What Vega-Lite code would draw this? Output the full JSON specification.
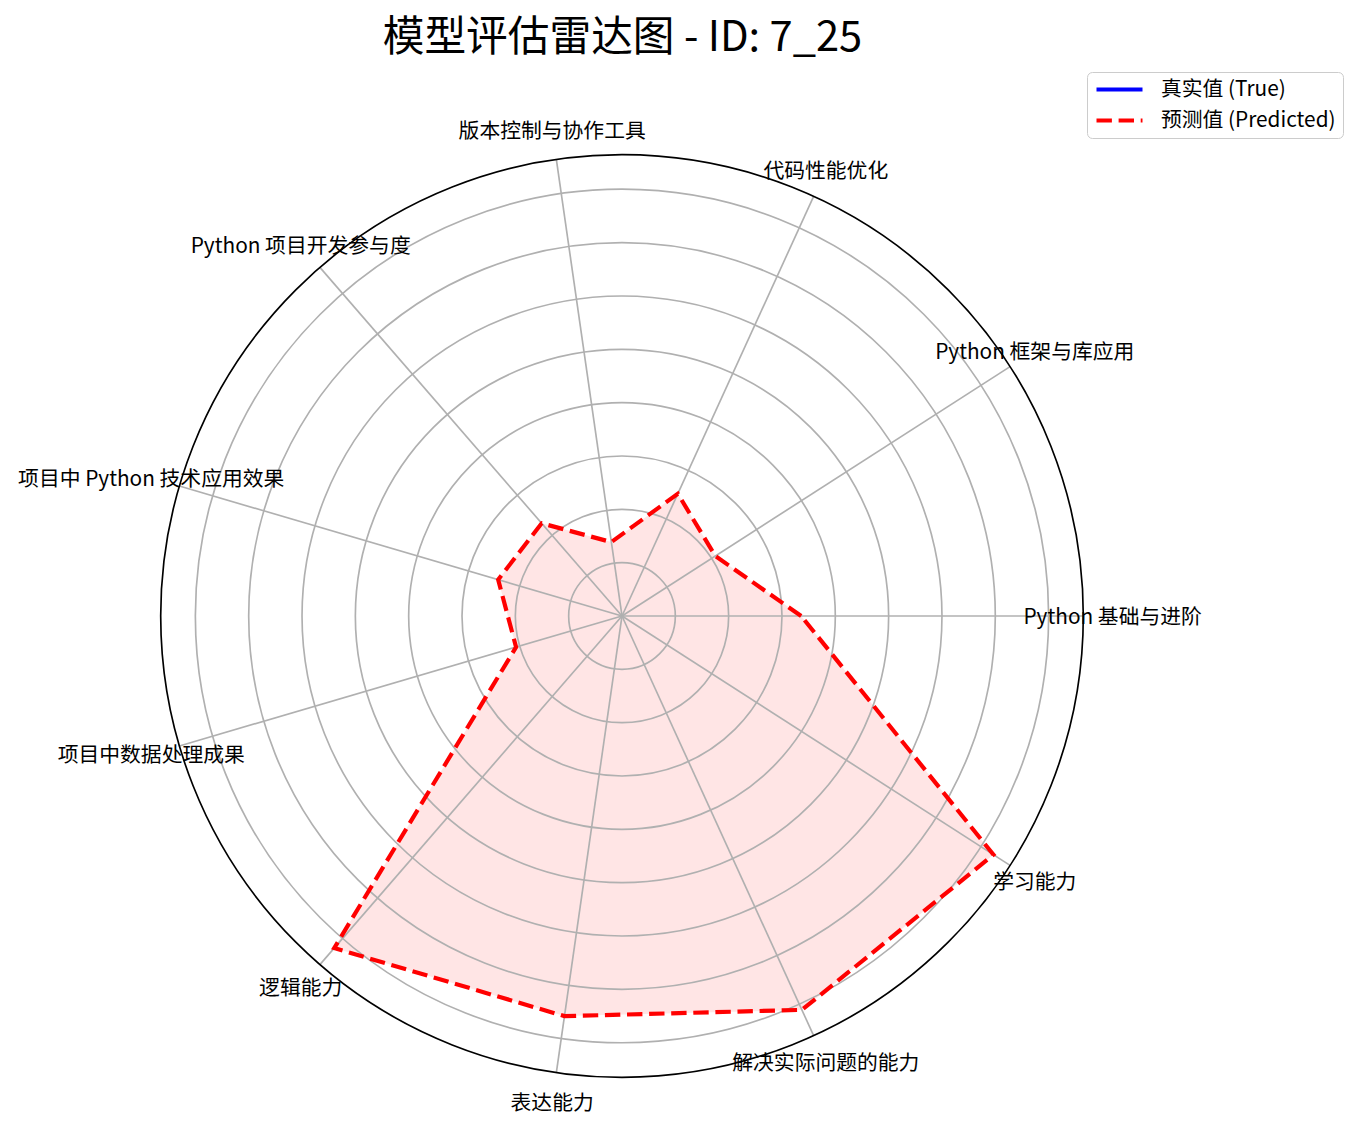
{
  "$schema": "https://vega.github.io/schema/vega-lite/v6.json",
  "width": 1365,
  "height": 1057,
  "autosize": {"type": "none"},
  "padding": {"top": 70, "left": 0, "right": 0, "bottom": 0},
  "background": "white",
  "title": {"text": "模型评估雷达图 - ID: 7_25", "font": "Noto Sans CJK SC", "fontSize": 41.7, "fontWeight": "normal", "color": "black", "anchor": "middle", "dx": -60, "offset": 10},
  "config": {
    "view": {"stroke": null},
    "legend": {"orient": "none", "legendX": 1087, "legendY": 2, "symbolType": "stroke", "symbolSize": 2116, "symbolStrokeWidth": 4.17, "labelFont": "Noto Sans CJK SC", "labelFontSize": 20.8, "labelColor": "black", "labelOffset": 16, "padding": 7, "rowPadding": 9, "fillColor": "white", "strokeColor": "#cccccc", "cornerRadius": 5, "clipHeight": 21, "labelLimit": 400}
  },
  "datasets": {
    "pts": [
      {"idx": 0, "dim": "Python 基础与进阶", "pred": 3.36, "series": "预测值 (Predicted)"},
      {"idx": 1, "dim": "Python 框架与库应用", "pred": 2.08, "series": "预测值 (Predicted)"},
      {"idx": 2, "dim": "代码性能优化", "pred": 2.52, "series": "预测值 (Predicted)"},
      {"idx": 3, "dim": "版本控制与协作工具", "pred": 1.40, "series": "预测值 (Predicted)"},
      {"idx": 4, "dim": "Python 项目开发参与度", "pred": 2.30, "series": "预测值 (Predicted)"},
      {"idx": 5, "dim": "项目中 Python 技术应用效果", "pred": 2.42, "series": "预测值 (Predicted)"},
      {"idx": 6, "dim": "项目中数据处理成果", "pred": 2.07, "series": "预测值 (Predicted)"},
      {"idx": 7, "dim": "逻辑能力", "pred": 8.24, "series": "预测值 (Predicted)"},
      {"idx": 8, "dim": "表达能力", "pred": 7.58, "series": "预测值 (Predicted)"},
      {"idx": 9, "dim": "解决实际问题的能力", "pred": 8.12, "series": "预测值 (Predicted)"},
      {"idx": 10, "dim": "学习能力", "pred": 8.28, "series": "预测值 (Predicted)"},
      {"idx": 11, "dim": "Python 基础与进阶", "pred": 3.36, "series": "预测值 (Predicted)"}
    ],
    "rings": [
      {"r": 1, "kind": "grid"}, {"r": 2, "kind": "grid"}, {"r": 3, "kind": "grid"}, {"r": 4, "kind": "grid"},
      {"r": 5, "kind": "grid"}, {"r": 6, "kind": "grid"}, {"r": 7, "kind": "grid"}, {"r": 8, "kind": "grid"},
      {"r": 8.65, "kind": "spine"}
    ]
  },
  "layer": [
    {
      "data": {"name": "pts"},
      "transform": [
        {"calculate": "datum.idx*2*PI/11", "as": "ang"},
        {"calculate": "datum.pred*cos(datum.ang)", "as": "px"},
        {"calculate": "datum.pred*sin(datum.ang)", "as": "py"}
      ],
      "mark": {"type": "line", "fill": "#ff0000", "fillOpacity": 0.1, "strokeOpacity": 0},
      "encoding": {
        "x": {"field": "px", "type": "quantitative", "scale": {"domain": [-11.663, 13.932], "nice": false, "zero": false}, "axis": null},
        "y": {"field": "py", "type": "quantitative", "scale": {"domain": [-9.582, 10.238], "nice": false, "zero": false}, "axis": null},
        "order": {"field": "idx", "type": "quantitative"}
      }
    },
    {
      "data": {"name": "rings"},
      "transform": [{"filter": "datum.kind == 'grid'"}, {"calculate": "0", "as": "c"}],
      "mark": {"type": "point", "shape": "circle", "filled": false, "color": "#b0b0b0", "strokeWidth": 1.67, "opacity": 1},
      "encoding": {
        "x": {"field": "c", "type": "quantitative"},
        "y": {"field": "c", "type": "quantitative"},
        "size": {"field": "r", "type": "quantitative", "scale": {"type": "pow", "exponent": 2, "domain": [0, 8.65], "range": [0, 851190]}, "legend": null}
      }
    },
    {
      "data": {"name": "pts"},
      "transform": [
        {"filter": "datum.idx < 11"},
        {"calculate": "datum.idx*2*PI/11", "as": "ang"},
        {"calculate": "0", "as": "c"},
        {"calculate": "8.65*cos(datum.ang)", "as": "xe"},
        {"calculate": "8.65*sin(datum.ang)", "as": "ye"}
      ],
      "mark": {"type": "rule", "color": "#b0b0b0", "strokeWidth": 1.67},
      "encoding": {
        "x": {"field": "c", "type": "quantitative"},
        "y": {"field": "c", "type": "quantitative"},
        "x2": {"field": "xe"},
        "y2": {"field": "ye"}
      }
    },
    {
      "data": {"name": "pts"},
      "transform": [
        {"calculate": "datum.idx*2*PI/11", "as": "ang"},
        {"calculate": "datum.pred*cos(datum.ang)", "as": "px"},
        {"calculate": "datum.pred*sin(datum.ang)", "as": "py"}
      ],
      "mark": {"type": "line", "strokeWidth": 4.17},
      "encoding": {
        "x": {"field": "px", "type": "quantitative"},
        "y": {"field": "py", "type": "quantitative"},
        "order": {"field": "idx", "type": "quantitative"},
        "color": {"field": "series", "type": "nominal", "title": null, "scale": {"domain": ["真实值 (True)", "预测值 (Predicted)"], "range": ["#0000ff", "#ff0000"]}},
        "strokeDash": {"field": "series", "type": "nominal", "title": null, "scale": {"domain": ["真实值 (True)", "预测值 (Predicted)"], "range": [[1, 0], [15.4, 6.7]]}}
      }
    },
    {
      "data": {"name": "pts"},
      "transform": [
        {"filter": "datum.idx < 11"},
        {"calculate": "datum.idx*2*PI/11", "as": "ang"},
        {"calculate": "9.2*cos(datum.ang)", "as": "lx"},
        {"calculate": "9.2*sin(datum.ang)", "as": "ly"}
      ],
      "mark": {"type": "text", "font": "Noto Sans CJK SC", "fontSize": 20.8, "color": "black", "align": "center", "baseline": "middle", "dy": 2},
      "encoding": {
        "x": {"field": "lx", "type": "quantitative"},
        "y": {"field": "ly", "type": "quantitative"},
        "text": {"field": "dim", "type": "nominal"}
      }
    },
    {
      "data": {"name": "rings"},
      "transform": [{"filter": "datum.kind == 'spine'"}, {"calculate": "0", "as": "c"}],
      "mark": {"type": "point", "shape": "circle", "filled": false, "color": "black", "strokeWidth": 1.67, "opacity": 1},
      "encoding": {
        "x": {"field": "c", "type": "quantitative"},
        "y": {"field": "c", "type": "quantitative"},
        "size": {"field": "r", "type": "quantitative", "legend": null}
      }
    }
  ]
}
